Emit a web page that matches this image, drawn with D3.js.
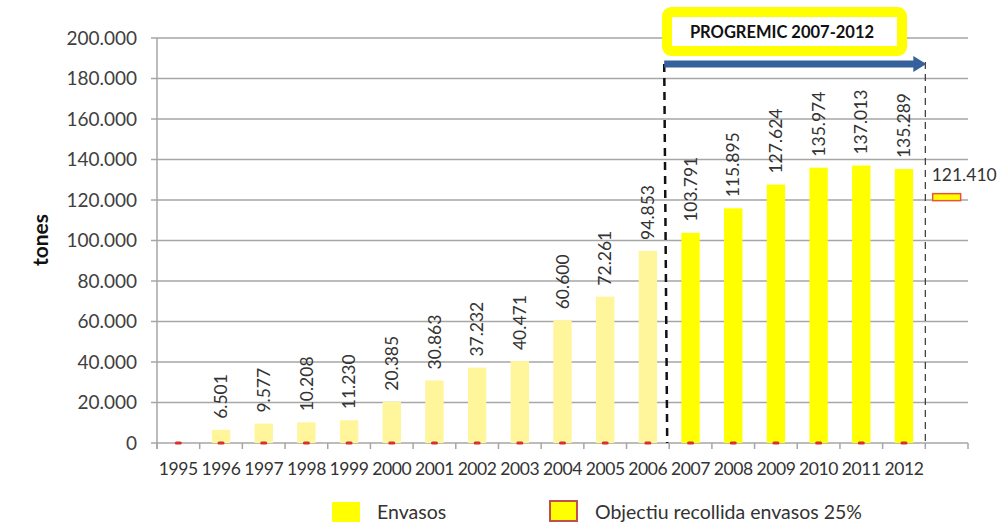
<!DOCTYPE html>
<html>
<head>
<meta charset="utf-8">
<script src="https://cdn.jsdelivr.net/npm/d3@7/dist/d3.min.js"></script>
<style>
  html, body { margin: 0; padding: 0; background: #fff; }
  svg { display: block; font-family: Lato, "Open Sans", sans-serif; }
</style>
</head>
<body>
<svg id="chart" width="1008" height="528"></svg>
<script>
// Categories: collection years plus one unlabelled slot for the target
const years = ["1995","1996","1997","1998","1999","2000","2001","2002","2003",
               "2004","2005","2006","2007","2008","2009","2010","2011","2012",""];
// Packaging collected (tonnes); null = no bar
const envasos = [0, 6501, 9577, 10208, 11230, 20385, 30863, 37232, 40471,
                 60600, 72261, 94853, 103791, 115895, 127624, 135974, 137013, 135289, null];
// Collection target (25%)
const objectiu = [0,0,0,0,0,0,0,0,0,0,0,0,0,0,0,0,0,0, 121410];
const yTicks = [0, 20000, 40000, 60000, 80000, 100000, 120000, 140000, 160000, 180000, 200000];
const programStart = "2007", programEnd = "2012";
const programLabel = "PROGREMIC 2007-2012";

const fmt = v => d3.format(",")(v).replace(/,/g, ".");

const svg = d3.select("#chart");
const plotLeft = 157, plotRight = 968, plotTop = 38, plotBottom = 443;

const x = d3.scaleBand().domain(d3.range(years.length)).range([plotLeft, plotRight]).paddingInner(0.57).paddingOuter(0.285);
const xb = d3.scaleBand().domain(d3.range(years.length)).range([plotLeft, plotRight]);
const y = d3.scaleLinear().domain([0, 200000]).range([plotBottom, plotTop]);

// Horizontal gridlines with small left ticks
svg.append("g").selectAll("line").data(yTicks).join("line")
  .attr("x1", plotLeft - 6).attr("x2", plotRight)
  .attr("y1", d => y(d)).attr("y2", d => y(d))
  .attr("stroke", "#a6a6a6").attr("stroke-width", 1.5);

// Y axis labels
svg.append("g").selectAll("text").data(yTicks).join("text")
  .attr("x", 137).attr("y", d => y(d)).attr("dy", "0.35em")
  .attr("text-anchor", "end").attr("font-size", 19).attr("fill", "#404040")
  .text(d => fmt(d));

// Vertical axis line
svg.append("line").attr("x1", plotLeft).attr("x2", plotLeft).attr("y1", plotTop).attr("y2", plotBottom + 6)
  .attr("stroke", "#a6a6a6").attr("stroke-width", 1.5);

// Category boundary ticks
svg.append("g").selectAll("line").data(d3.range(years.length + 1)).join("line")
  .attr("x1", i => plotLeft + i * xb.bandwidth()).attr("x2", i => plotLeft + i * xb.bandwidth())
  .attr("y1", plotBottom).attr("y2", plotBottom + 6)
  .attr("stroke", "#a6a6a6").attr("stroke-width", 1.5);

// Axis title
svg.append("text").attr("transform", "translate(48,240) rotate(-90)")
  .attr("text-anchor", "middle").attr("font-size", 21).attr("font-weight", "bold")
  .attr("fill", "#111").text("tones");

// Year labels
svg.append("g").selectAll("text").data(years).join("text")
  .attr("x", (d, i) => xb(i) + xb.bandwidth() / 2).attr("y", 475)
  .attr("text-anchor", "middle").attr("font-size", 17.5).attr("fill", "#333")
  .attr("letter-spacing", -0.4)
  .text(d => d);

const startIdx = years.indexOf(programStart);
const endIdx = years.indexOf(programEnd);

// Bars
const barData = envasos.map((v, i) => ({ v, i })).filter(d => d.v !== null && d.v > 0);
svg.append("g").selectAll("rect").data(barData).join("rect")
  .attr("x", d => x(d.i)).attr("width", x.bandwidth())
  .attr("y", d => y(d.v)).attr("height", d => y(0) - y(d.v))
  .attr("fill", d => d.i >= startIdx ? "#ffff00" : "#fff59a");

// Value labels
svg.append("g").selectAll("text").data(barData).join("text")
  .attr("transform", d => `translate(${x(d.i) + x.bandwidth() / 2},${y(d.v) - 11}) rotate(-90)`)
  .attr("dy", "0.35em").attr("font-size", 17.5).attr("fill", "#333")
  .text(d => fmt(d.v));

// Target markers
const tgt = objectiu.map((v, i) => ({ v, i }));
svg.append("g").selectAll("rect").data(tgt.filter(d => d.v === 0)).join("rect")
  .attr("x", d => xb(d.i) + xb.bandwidth() / 2 - 3.5).attr("width", 7)
  .attr("y", d => y(d.v) - 1.5).attr("height", 3).attr("rx", 1.5)
  .attr("fill", "#d8312a");
const tgtMain = tgt.filter(d => d.v > 0);
svg.append("g").selectAll("rect").data(tgtMain).join("rect")
  .attr("x", d => xb(d.i) + xb.bandwidth() / 2 - 14).attr("width", 28)
  .attr("y", d => y(d.v) - 3.5).attr("height", 7)
  .attr("fill", "#ffff00").attr("stroke", "#e8553a").attr("stroke-width", 1.5);
svg.append("g").selectAll("text").data(tgtMain).join("text")
  .attr("x", d => xb(d.i) + xb.bandwidth() / 2 - 15).attr("y", d => y(d.v) - 16)
  .attr("font-size", 17.5).attr("fill", "#333").text(d => fmt(d.v));

// Program period markers
const xStart = xb(startIdx) - 2;
const xEnd = xb(endIdx) + xb.bandwidth();
svg.append("line").attr("x1", xStart - 3).attr("x2", xStart).attr("y1", 64).attr("y2", plotBottom)
  .attr("stroke", "#111").attr("stroke-width", 2.5).attr("stroke-dasharray", "8,6");
svg.append("line").attr("x1", xEnd).attr("x2", xEnd).attr("y1", 62).attr("y2", plotBottom)
  .attr("stroke", "#333").attr("stroke-width", 1.2).attr("stroke-dasharray", "7,5");

// Arrow
svg.append("path")
  .attr("d", `M${xStart - 3},60.5 L${xEnd - 12},60.5 L${xEnd - 12},56 L${xEnd + 1},64 L${xEnd - 12},72 L${xEnd - 12},67.5 L${xStart - 3},67.5 Z`)
  .attr("fill", "#35609a");

// Program label box
svg.append("rect").attr("x", 667).attr("y", 12).attr("width", 235).attr("height", 39)
  .attr("rx", 4).attr("fill", "#fff").attr("stroke", "#ffff00").attr("stroke-width", 10);
svg.append("text").attr("x", 782).attr("y", 38).attr("text-anchor", "middle")
  .attr("font-size", 16.5).attr("font-weight", "bold").attr("fill", "#111")
  .text(programLabel);

// Legend
svg.append("rect").attr("x", 332).attr("y", 502).attr("width", 28).attr("height", 20).attr("fill", "#ffff00");
svg.append("text").attr("x", 377).attr("y", 519).attr("font-size", 19.5).attr("fill", "#333").text("Envasos");
svg.append("rect").attr("x", 550).attr("y", 501).attr("width", 27).attr("height", 20)
  .attr("fill", "#ffff00").attr("stroke", "#c0504d").attr("stroke-width", 2);
svg.append("text").attr("x", 595).attr("y", 519).attr("font-size", 19.5).attr("fill", "#333").text("Objectiu recollida envasos 25%");
</script>
</body>
</html>
